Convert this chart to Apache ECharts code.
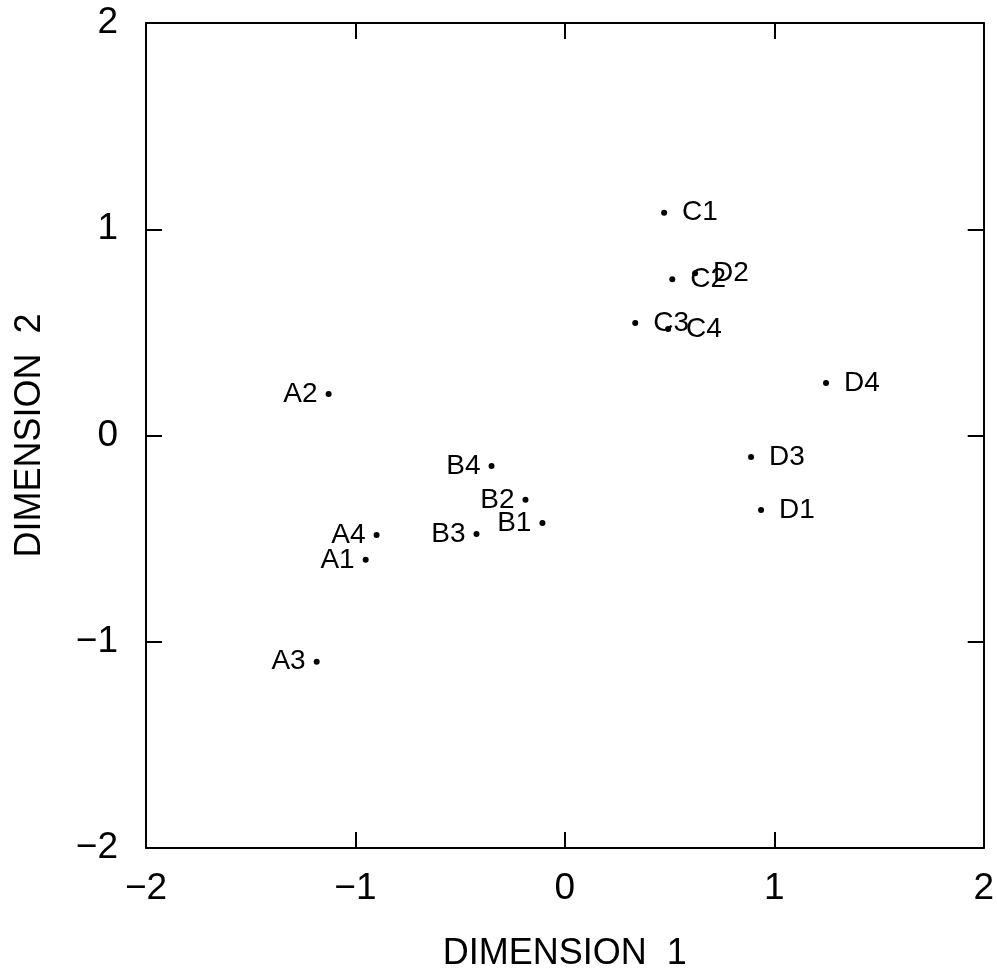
<!DOCTYPE html>
<html>
<head>
<meta charset="utf-8">
<script src="https://cdn.jsdelivr.net/npm/echarts@6/dist/echarts.min.js"></script>
<style>
  html, body { margin: 0; padding: 0; background: #fff; }
  #chart { width: 997px; height: 979px; }
</style>
</head>
<body>
<div id="chart"></div>
<script>
// point names and coordinates
const names = ['A1', 'A2', 'A3', 'A4', 'B1', 'B2', 'B3', 'B4',
               'C1', 'C2', 'C3', 'C4', 'D1', 'D2', 'D3', 'D4']
const dim1 = [-0.951, -1.128, -1.185, -0.899, -0.107, -0.188, -0.422, -0.35,
              0.474, 0.513, 0.336, 0.493, 0.937, 0.622, 0.889, 1.247]
const dim2 = [-0.603, 0.201, -1.097, -0.482, -0.424, -0.312, -0.477, -0.148,
              1.08, 0.758, 0.545, 0.516, -0.361, 0.787, -0.104, 0.254]
const tickValues = [-2, -1, 0, 1, 2]

const font = 'Liberation Sans, Arial, sans-serif'

const chart = echarts.init(document.getElementById('chart'))

// groups A, B labelled on the left, C, D on the right
const points = names.map((n, i) => {
  const left = n[0] === 'A' || n[0] === 'B'
  return {
    name: n,
    value: [dim1[i], dim2[i]],
    label: {
      position: left ? 'left' : 'right',
      distance: left ? 8 : 15
    }
  }
})

const axisLine = { show: true, onZero: false, lineStyle: { color: '#000', width: 2 } }
const tick = { show: true, inside: true, length: 16, lineStyle: { color: '#000', width: 2 } }
const fmt = v => (tickValues.includes(v) ? String(v).replace('-', '\u2212') : '')

chart.setOption({
  animation: false,
  backgroundColor: '#fff',
  grid: { left: 146, right: 12, top: 23, bottom: 131 },
  xAxis: [
    {
      type: 'value', min: -2, max: 2, interval: 1, position: 'bottom',
      name: 'DIMENSION  1', nameLocation: 'middle', nameGap: 88,
      nameTextStyle: { fontFamily: font, fontSize: 36, color: '#000' },
      axisLine: axisLine, axisTick: tick,
      axisLabel: { margin: 22, fontFamily: font, fontSize: 37, color: '#000', formatter: fmt },
      splitLine: { show: false }
    },
    {
      type: 'value', min: -2, max: 2, interval: 1, position: 'top',
      axisLine: axisLine, axisTick: tick, axisLabel: { show: false }, splitLine: { show: false }
    }
  ],
  yAxis: [
    {
      type: 'value', min: -2, max: 2, interval: 1, position: 'left',
      name: 'DIMENSION  2', nameLocation: 'middle', nameGap: 98,
      nameTextStyle: { fontFamily: font, fontSize: 36, color: '#000' },
      axisLine: axisLine, axisTick: tick,
      axisLabel: { margin: 28, fontFamily: font, fontSize: 37, color: '#000', formatter: fmt },
      splitLine: { show: false }
    },
    {
      type: 'value', min: -2, max: 2, interval: 1, position: 'right',
      axisLine: axisLine, axisTick: tick, axisLabel: { show: false }, splitLine: { show: false }
    }
  ],
  series: [
    {
      type: 'scatter',
      symbol: 'circle',
      symbolSize: 6,
      itemStyle: { color: '#000', opacity: 1 },
      emphasis: { disabled: true },
      label: {
        show: true,
        formatter: p => p.name,
        fontFamily: font,
        fontSize: 28,
        color: '#000',
        offset: [0, -6]
      },
      labelLayout: { hideOverlap: false },
      data: points
    }
  ]
})
</script>
</body>
</html>
